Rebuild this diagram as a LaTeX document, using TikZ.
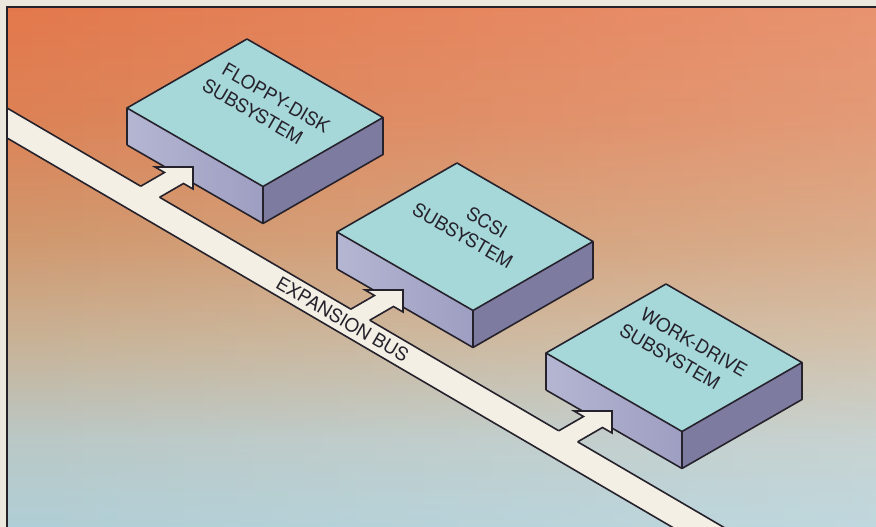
\documentclass[tikz,border=0pt]{standalone}
\usepackage{fontspec}
\setmainfont{TeX Gyre Heros}
\usetikzlibrary{calc,fadings}

\definecolor{paper}{RGB}{236,232,222}
\definecolor{ink}{RGB}{38,34,44}
\definecolor{boxtop}{RGB}{166,216,218}
\definecolor{boxfrontA}{RGB}{180,182,210}
\definecolor{boxfrontB}{RGB}{158,158,194}
\definecolor{boxside}{RGB}{126,123,160}
\definecolor{buswhite}{RGB}{243,239,229}

% warm-to-cool backdrop, bottom to top
\pgfdeclareverticalshading{backdrop}{100bp}{
  rgb(0bp)=(0.690,0.808,0.839);
  rgb(25bp)=(0.690,0.808,0.839);
  rgb(33.4bp)=(0.729,0.784,0.776);
  rgb(43bp)=(0.784,0.698,0.588);
  rgb(52.6bp)=(0.816,0.596,0.431);
  rgb(64.1bp)=(0.863,0.510,0.337);
  rgb(75bp)=(0.890,0.471,0.298);
  rgb(100bp)=(0.890,0.471,0.298)}
\tikzfading[name=rampright, left color=transparent!100, right color=transparent!0]

\tikzset{
  outline/.style={draw=ink, line width=1.6pt},
  label/.style={font=\fontsize{18.5}{22}\selectfont, text=ink,
    inner sep=0pt, rotate=-30},
  isoplane/.style={cm={0.866,-0.5,0.866,0.5,(0,0)}},
  isobox/.pic={
    \fill[boxtop] (0,0) -- (120,69) -- (256,-9.5) -- (136,-78.5) -- cycle;
    \shade[left color=boxfrontA, right color=boxfrontB]
      (0,0) -- (136,-78.5) -- (136,-115.5) -- (0,-37) -- cycle;
    \fill[boxside] (136,-78.5) -- (256,-9.5) -- (256,-46.5) -- (136,-115.5) -- cycle;
    \draw[outline, line join=round]
      (0,-37) -- (0,0) -- (120,69) -- (256,-9.5) -- (256,-46.5)
      -- (136,-115.5) -- (0,-37)
      (0,0) -- (136,-78.5) -- (256,-9.5)
      (136,-78.5) -- (136,-115.5);
  }
}

\begin{document}
\begin{tikzpicture}[x=1pt,y=1pt]
\useasboundingbox (0,0) rectangle (876,527);
\fill[paper] (0,0) rectangle (876,527);

\begin{scope}
  \clip (7,0) rectangle (876,520);
  % background
  \shade[shading=backdrop] (7,0) rectangle (876,520);
  \fill[white, path fading=rampright, fill opacity=0.2] (7,0) rectangle (876,520);

  % subsystem boxes
  \pic (floppy) at (127,419) {isobox};
  \pic (scsi) at (337,295) {isobox};
  \pic (work) at (546,174) {isobox};

  % labels on the top faces, placed in the face's own coordinates
  \begin{scope}[shift={(127,419)}, isoplane]
    \node[label] (floppy-l1) at (76,96) {FLOPPY-DISK};
    \node[label] (floppy-l2) at (76,69) {SUBSYSTEM};
  \end{scope}
  \begin{scope}[shift={(337,295)}, isoplane]
    \node[label] (scsi-l1) at (77,96) {SCSI};
    \node[label] (scsi-l2) at (76,69) {SUBSYSTEM};
  \end{scope}
  \begin{scope}[shift={(546,174)}, isoplane]
    \node[label] (work-l1) at (75,96) {WORK-DRIVE};
    \node[label] (work-l2) at (75,68) {SUBSYSTEM};
  \end{scope}

  % expansion bus edges: upper edge y = 419 - 0.585 (x - 7)
  \coordinate (bu1) at (7,419);
  \coordinate (bu2) at (760,-21.5);
  \coordinate (bl1) at (7,389);
  \coordinate (bl2) at (760,-51.5);

  % arrows from the bus into each box
  \foreach \i/\tx/\ty in {1/193/360,2/403/237,3/612/116}{
    \coordinate (t\i) at (\tx,\ty);
    \coordinate (hl\i) at ($(t\i)+(-38,0)$);
    \coordinate (hr\i) at ($(t\i)+(0,-22)$);
    \coordinate (ka\i) at ($(t\i)+(-28.5,-5.5)$);
    \coordinate (kb\i) at ($(t\i)+(-9.5,-16.5)$);
    \coordinate (ea\i) at ($(ka\i)+(-30.3,-17.5)$);
    \coordinate (eb\i) at ($(kb\i)+(-30.3,-17.5)$);
    % shaft length back to the upper bus edge
    \pgfmathsetmacro{\la}{((\ty-5.5)+0.585*(\tx-28.5)-423.095)/1.00661}
    \pgfmathsetmacro{\lb}{((\ty-16.5)+0.585*(\tx-9.5)-423.095)/1.00661}
    \coordinate (sa\i) at ($(ka\i)+({-0.866*\la},{-0.5*\la})$);
    \coordinate (sb\i) at ($(kb\i)+({-0.866*\lb},{-0.5*\lb})$);
  }

  \fill[buswhite] (bu1) -- (bu2) -- (bl2) -- (bl1) -- cycle;
  \foreach \i in {1,2,3}
    \fill[buswhite] (ea\i) -- (ka\i) -- (hl\i) -- (t\i) -- (hr\i) -- (kb\i) -- (eb\i) -- cycle;

  \draw[outline] (bl1) -- (bl2);
  \draw[outline] (bu1) -- (sa1) (sb1) -- (sa2) (sb2) -- (sa3) (sb3) -- (bu2);
  \foreach \i in {1,2,3}
    \draw[outline] (sa\i) -- (ka\i) -- (hl\i) -- (t\i) -- (hr\i) -- (kb\i) -- (sb\i);

  \node[label, rotate=-0.3] (bus-label) at (342.5,207.7) {EXPANSION BUS};
\end{scope}

% frame
\draw[ink, line width=1.6pt] (7,0) -- (7,520) -- (876,520);
\end{tikzpicture}
\end{document}
